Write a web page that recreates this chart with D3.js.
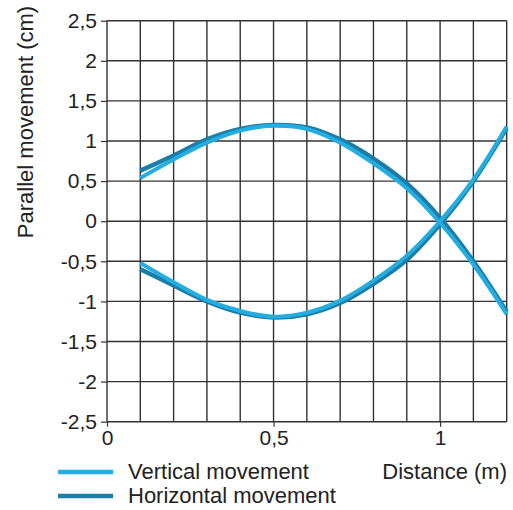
<!DOCTYPE html>
<html lang="en">
<head>
    <meta charset="UTF-8">
    <title>Parallel movement</title>
    <script src="https://cdn.jsdelivr.net/npm/d3@7"></script>
    <style>
        body { margin: 0; background: #fff; font-family: "Liberation Sans", Arial, sans-serif; }
        text { fill: #222; }
    </style>
</head>
<body>
    <div id="chart"></div>
    <script>
        // distance (m) sample points
        const distance = [0.1, 0.2, 0.3, 0.4, 0.5, 0.6, 0.7, 0.8, 0.9, 1.0, 1.1, 1.2];

        // parallel movement (cm), two branches per series
        const verticalUpper = [0.54, 0.77, 0.98, 1.13, 1.19, 1.15, 0.98, 0.72, 0.41, -0.02, -0.54, -1.16];
        const verticalLower = [-0.52, -0.76, -0.98, -1.12, -1.19, -1.14, -0.99, -0.74, -0.43, 0.0, 0.52, 1.18];
        const horizontalUpper = [0.63, 0.82, 1.02, 1.15, 1.2, 1.17, 1.02, 0.78, 0.47, 0.04, -0.5, -1.13];
        const horizontalLower = [-0.6, -0.8, -1.0, -1.14, -1.2, -1.16, -1.02, -0.78, -0.48, -0.04, 0.5, 1.16];

        const yTicks = [-2.5, -2, -1.5, -1, -0.5, 0, 0.5, 1, 1.5, 2, 2.5];
        const xTicks = [0, 0.5, 1];
        const xGrid = [0, 0.1, 0.2, 0.3, 0.4, 0.5, 0.6, 0.7, 0.8, 0.9, 1.0, 1.1, 1.2];

        const fmt = d => String(d).replace(".", ",");

        const W = 513, H = 510;
        const margin = { top: 20.7, right: 6.3, bottom: 88.3, left: 107 };
        const width = W - margin.left - margin.right;
        const height = H - margin.top - margin.bottom;

        const svg = d3.select("#chart").append("svg")
            .attr("width", W).attr("height", H);
        const g = svg.append("g")
            .attr("transform", `translate(${margin.left},${margin.top})`);

        const x = d3.scaleLinear().domain([0, 1.2]).range([0, width]);
        const y = d3.scaleLinear().domain([-2.5, 2.5]).range([height, 0]);

        // grid
        g.selectAll(".vg").data(xGrid).enter().append("line")
            .attr("x1", d => x(d)).attr("x2", d => x(d))
            .attr("y1", 0).attr("y2", height)
            .attr("stroke", "#333").attr("stroke-width", 1.4);
        g.selectAll(".hg").data(yTicks).enter().append("line")
            .attr("x1", 0).attr("x2", width)
            .attr("y1", d => y(d)).attr("y2", d => y(d))
            .attr("stroke", "#333").attr("stroke-width", 1.4);

        // y axis
        const yAxis = g.append("g")
            .call(d3.axisLeft(y).tickValues(yTicks).tickFormat(fmt).tickSize(6).tickPadding(4));
        yAxis.select(".domain").remove();
        yAxis.selectAll("line").attr("stroke", "#333").attr("stroke-width", 1.2);
        yAxis.selectAll("text").style("font-size", "21px").attr("fill", "#222");

        // x axis
        const xAxis = g.append("g")
            .attr("transform", `translate(0,${height})`)
            .call(d3.axisBottom(x).tickValues(xTicks).tickFormat(fmt).tickSize(5).tickPadding(3));
        xAxis.select(".domain").remove();
        xAxis.selectAll("line").attr("stroke", "#333").attr("stroke-width", 1.2);
        xAxis.selectAll("text").style("font-size", "21px").attr("fill", "#222");

        // curves
        const line = d3.line()
            .x((d, i) => x(distance[i]))
            .y(d => y(d))
            .curve(d3.curveCatmullRom);

        const darkBlue = "#1b7ea8", lightBlue = "#23ade0";
        [horizontalUpper, horizontalLower].forEach(s => {
            g.append("path").datum(s).attr("d", line)
                .attr("fill", "none").attr("stroke", darkBlue).attr("stroke-width", 4.5);
        });
        [verticalUpper, verticalLower].forEach(s => {
            g.append("path").datum(s).attr("d", line)
                .attr("fill", "none").attr("stroke", lightBlue).attr("stroke-width", 4);
        });

        // axis titles
        svg.append("text")
            .attr("transform", "translate(33,122) rotate(-90)")
            .attr("text-anchor", "middle")
            .style("font-size", "22px")
            .text("Parallel movement (cm)");
        svg.append("text")
            .attr("x", 507).attr("y", 479)
            .attr("text-anchor", "end")
            .style("font-size", "22px")
            .text("Distance (m)");

        // legend
        const legend = [
            { label: "Vertical movement", color: lightBlue },
            { label: "Horizontal movement", color: darkBlue }
        ];
        legend.forEach((d, i) => {
            svg.append("line")
                .attr("x1", 58).attr("x2", 113)
                .attr("y1", 472 + i * 24).attr("y2", 472 + i * 24)
                .attr("stroke", d.color).attr("stroke-width", 4.5);
            svg.append("text")
                .attr("x", 128).attr("y", 479 + i * 24)
                .style("font-size", "22px")
                .text(d.label);
        });
    </script>
</body>
</html>
